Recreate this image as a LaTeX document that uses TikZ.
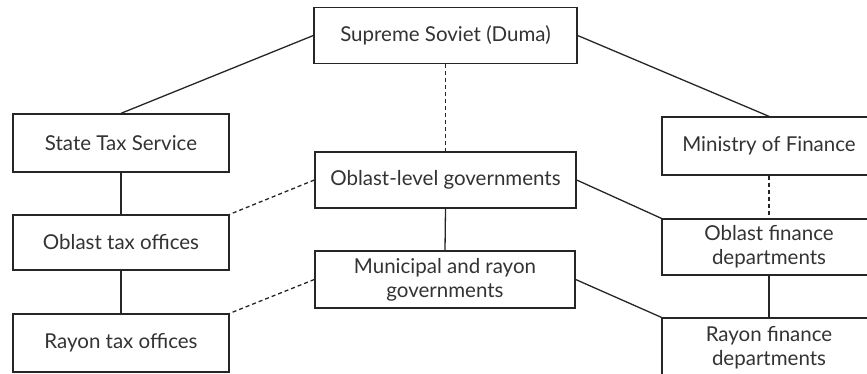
\documentclass[tikz,border=0pt]{standalone}
\usepackage{fontspec}
\setmainfont{Lato}
\begin{document}
\begin{tikzpicture}[x=1pt,y=-1pt,
  box/.style={draw=black!85, line width=1.3pt, rectangle, inner sep=0pt, align=center,
    text=black!80, font=\fontsize{20.5}{24}\selectfont},
  conn/.style={draw=black!85, line width=1.3pt},
  dconn/.style={draw=black!85, line width=1.3pt, dash pattern=on 4pt off 3pt}]
\useasboundingbox[fill=white] (0,0) rectangle (867,374);
\clip (0,0) rectangle (867,374);
\node[box, minimum width=263pt, minimum height=56pt] (sup) at (445.5,35.5) {Supreme Soviet (Duma)};
\node[box, minimum width=216pt, minimum height=58pt] (sts) at (121,143) {State Tax Service};
\node[box, minimum width=216pt, minimum height=55pt] (otx) at (121,242.5) {Oblast tax offices};
\node[box, minimum width=216pt, minimum height=58pt] (rtx) at (121,343) {Rayon tax offices};
\node[box, minimum width=261pt, minimum height=56pt] (olg) at (445.5,180) {Oblast-level governments};
\node[box, minimum width=260pt, minimum height=57pt] (mrg) at (445,279.5) {Municipal and rayon\\governments};
\node[box, minimum width=214pt, minimum height=58pt] (mof) at (769,146) {Ministry of Finance};
\node[box, minimum width=214pt, minimum height=56pt] (ofd) at (769,247) {Oblast finance\\departments};
\node[box, minimum width=214pt, minimum height=60pt] (rfd) at (769,348) {Rayon finance\\departments};
\draw[conn] (sup.west) -- (sts.north);
\draw[conn] (sup.east) -- (mof.north);
\draw[dconn] (sup.south) -- (olg.north);
\draw[conn] (olg.south) -- (mrg.north);
\draw[dconn] (olg.west) -- (otx.north east);
\draw[dconn] (mrg.west) -- (rtx.north east);
\draw[conn] (olg.east) -- (ofd.north west);
\draw[conn] (mrg.east) -- (rfd.north west);
\draw[conn] (sts.south) -- (otx.north);
\draw[conn] (otx.south) -- (rtx.north);
\draw[dconn] (mof.south) -- (ofd.north);
\draw[conn] (ofd.south) -- (rfd.north);
\end{tikzpicture}
\end{document}
